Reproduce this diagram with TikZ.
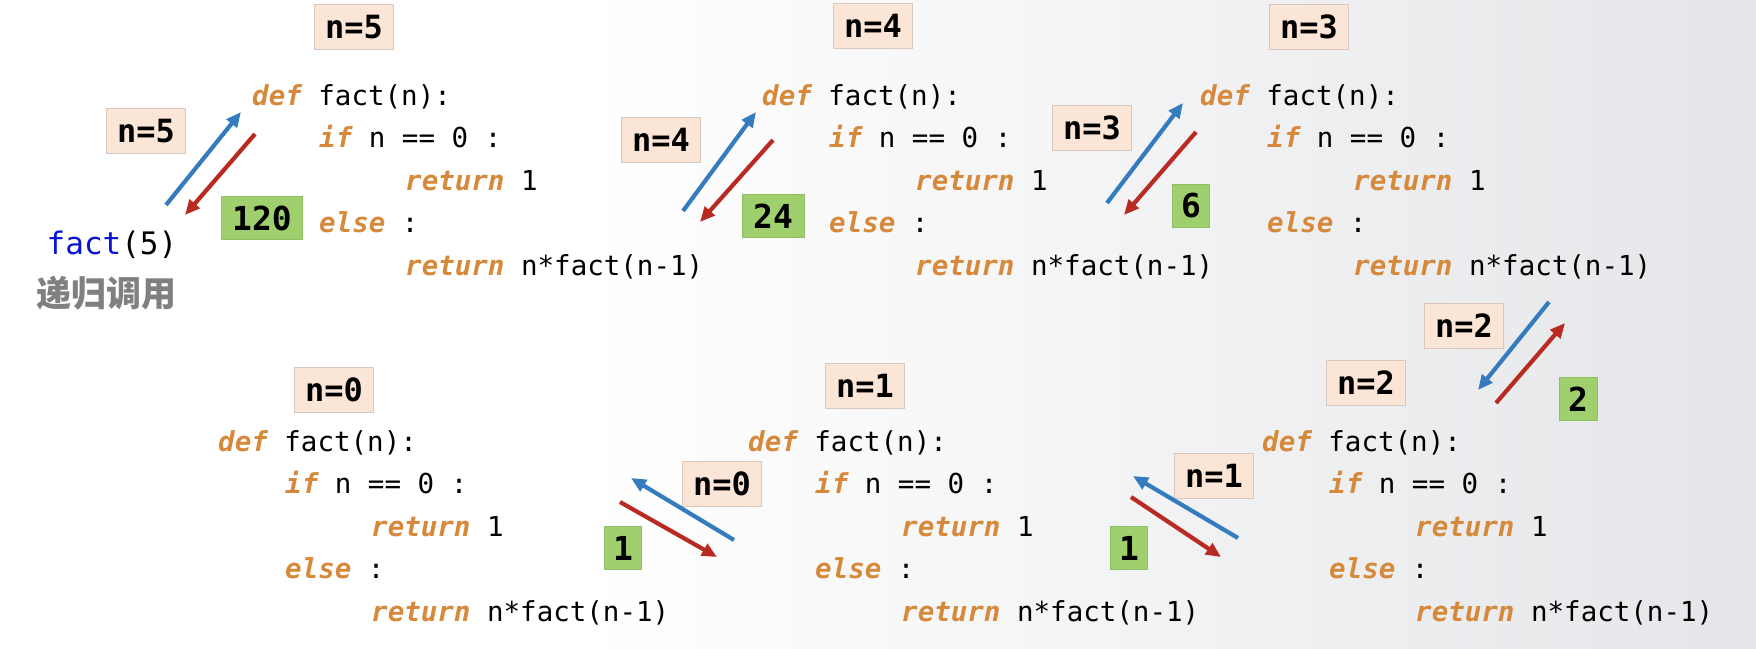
\documentclass[tikz,border=0pt]{standalone}
\usepackage{fontspec}
\newfontfamily\codefont{DejaVu Sans Mono}
\newfontfamily\cjk{Noto Sans CJK SC}
\usetikzlibrary{arrows.meta}
\definecolor{kwc}{RGB}{214,137,58}
\definecolor{peach}{RGB}{251,229,214}
\definecolor{peachb}{RGB}{216,200,190}
\definecolor{grn}{RGB}{160,207,110}
\definecolor{grnb}{RGB}{143,191,99}
\definecolor{callblue}{RGB}{52,124,190}
\definecolor{retred}{RGB}{184,42,34}
\definecolor{fnblue}{RGB}{10,20,210}
\definecolor{bgr}{RGB}{229,230,233}
\newcommand\kw[1]{{\color{kwc}\bfseries\itshape #1}}
\tikzset{
  code/.style={anchor=base west, inner sep=0pt, font=\codefont\fontsize{27.5}{30}\selectfont, text=black},
  argbox/.style={draw=peachb, line width=1pt, fill=peach, minimum width=79pt, minimum height=45pt, inner sep=0pt, font=\codefont\bfseries\fontsize{32}{36}\selectfont},
  valbox/.style={draw=grnb, line width=1pt, fill=grn, minimum height=43pt, inner xsep=9pt, inner ysep=0pt, font=\codefont\bfseries\fontsize{33}{36}\selectfont},
  callarrow/.style={draw=callblue, line width=4.2pt, -{Triangle[length=15pt,width=13pt]}},
  retarrow/.style={draw=retred, line width=4.2pt, -{Triangle[length=15pt,width=13pt]}}
}
\newcommand\codeblk[3]{%
  \node[code] (#1-1) at (#2,#3) {\kw{def} fact(n):};
  \node[code] (#1-2) at ({#2+67},{#3+42.5}) {\kw{if} n == 0 :};
  \node[code] (#1-3) at ({#2+153},{#3+85}) {\kw{return} 1};
  \node[code] (#1-4) at ({#2+67},{#3+127.5}) {\kw{else} :};
  \node[code] (#1-5) at ({#2+153},{#3+170}) {\kw{return} n*fact(n-1)};
}
\begin{document}
\begin{tikzpicture}[x=1pt,y=-1pt]
\useasboundingbox (0,0) rectangle (1756,648);
\fill[white] (0,0) rectangle (581,648);
\shade[left color=white, right color=bgr] (580,0) rectangle (1756,648);

% code blocks (x of def, baseline of first line)
\codeblk{A}{252}{105}
\codeblk{B}{762}{105}
\codeblk{C}{1200}{105}
\codeblk{D}{218}{451}
\codeblk{E}{748}{451}
\codeblk{F}{1262}{451}

% call site
\node[anchor=base, inner sep=0pt, font=\codefont\fontsize{31}{34}\selectfont] (call) at (112,254) {\textcolor{fnblue}{fact}(5)};
\node[anchor=base, inner sep=0pt, font=\cjk\bfseries\fontsize{35}{38}\selectfont, text=gray] (callnote) at (106,306) {递归调用};

% argument boxes
\node[argbox] (nA) at (354,27) {n=5};
\node[argbox] (nA2) at (146,131) {n=5};
\node[argbox] (nB) at (873,26) {n=4};
\node[argbox] (nB2) at (661,140) {n=4};
\node[argbox] (nC) at (1309,27) {n=3};
\node[argbox] (nC2) at (1092,128) {n=3};
\node[argbox] (nF2) at (1464,326) {n=2};
\node[argbox] (nF) at (1366,383) {n=2};
\node[argbox] (nE) at (865,386) {n=1};
\node[argbox] (nE2) at (1214,476) {n=1};
\node[argbox] (nD) at (334,390) {n=0};
\node[argbox] (nD2) at (722,484) {n=0};

% return value boxes
\node[valbox, minimum width=81pt] (vA) at (262,218) {120};
\node[valbox, minimum width=62pt] (vB) at (773,216) {24};
\node[valbox, minimum width=36pt] (vC) at (1191,206) {6};
\node[valbox, minimum width=38pt] (vF) at (1578,399) {2};
\node[valbox, minimum width=36pt] (vE) at (1129,548) {1};
\node[valbox, minimum width=36pt] (vD) at (623,548) {1};

% arrow end points
\coordinate (a1s) at (166,205); \coordinate (a1e) at (241,112);
\coordinate (a2s) at (255,134); \coordinate (a2e) at (185,215);
\coordinate (b1s) at (683,211); \coordinate (b1e) at (756,112);
\coordinate (b2s) at (773,140); \coordinate (b2e) at (700,222);
\coordinate (c1s) at (1107,203); \coordinate (c1e) at (1183,103);
\coordinate (c2s) at (1196,132); \coordinate (c2e) at (1124,215);
\coordinate (f1s) at (1549,302); \coordinate (f1e) at (1478,390);
\coordinate (f2s) at (1496,403); \coordinate (f2e) at (1565,323);
\coordinate (e1s) at (1238,538); \coordinate (e1e) at (1133,476);
\coordinate (e2s) at (1131,497); \coordinate (e2e) at (1221,557);
\coordinate (d1s) at (734,540); \coordinate (d1e) at (631,478);
\coordinate (d2s) at (620,502); \coordinate (d2e) at (717,557);

\draw[callarrow] (a1s) -- (a1e);
\draw[retarrow] (a2s) -- (a2e);
\draw[callarrow] (b1s) -- (b1e);
\draw[retarrow] (b2s) -- (b2e);
\draw[callarrow] (c1s) -- (c1e);
\draw[retarrow] (c2s) -- (c2e);
\draw[callarrow] (f1s) -- (f1e);
\draw[retarrow] (f2s) -- (f2e);
\draw[callarrow] (e1s) -- (e1e);
\draw[retarrow] (e2s) -- (e2e);
\draw[callarrow] (d1s) -- (d1e);
\draw[retarrow] (d2s) -- (d2e);
\end{tikzpicture}
\end{document}
